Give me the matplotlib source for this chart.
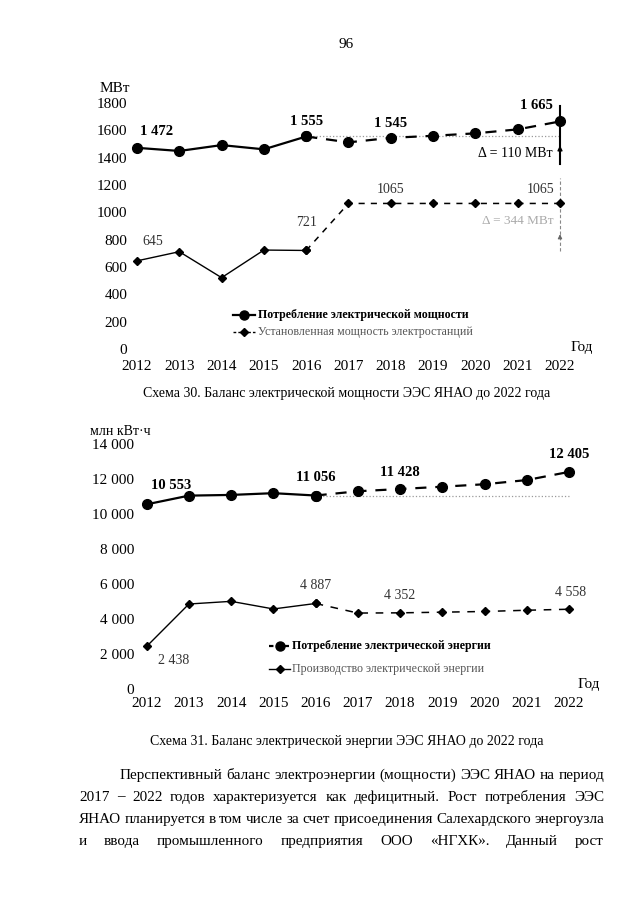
import matplotlib
matplotlib.use('Agg')
import matplotlib.pyplot as plt
from matplotlib.lines import Line2D

plt.rcParams['font.family'] = ['Liberation Serif', 'DejaVu Serif']

# ---------------- data ----------------
years = list(range(2012, 2023))
power_consumption = [1472, 1449, 1492, 1461, 1555, 1512, 1545, 1560, 1578, 1607, 1665]
installed_capacity = [645, 712, 522, 724, 721, 1065, 1065, 1065, 1065, 1065, 1065]
energy_consumption = [10553, 11050, 11090, 11190, 11056, 11300, 11428, 11560, 11700, 11940, 12405]
energy_production = [2438, 4857, 5009, 4574, 4887, 4340, 4352, 4390, 4430, 4500, 4558]

power_ticks = [0, 200, 400, 600, 800, 1000, 1200, 1400, 1600, 1800]
power_tick_labels = ['0', '200', '400', '600', '800', '1000', '1200', '1400', '1600', '1800']
energy_ticks = [0, 2000, 4000, 6000, 8000, 10000, 12000, 14000]
energy_tick_labels = ['0', '2 000', '4 000', '6 000', '8 000', '10 000', '12 000', '14 000']

page_number = '96'
caption_30 = 'Схема 30. Баланс электрической мощности ЭЭС ЯНАО до 2022 года'
caption_31 = 'Схема 31. Баланс электрической энергии ЭЭС ЯНАО до 2022 года'
legend_power = ['Потребление электрической мощности', 'Установленная мощность электростанций']
legend_energy = ['Потребление электрической энергии', 'Производство электрической энергии']
body_lines = [
    'Перспективный баланс электроэнергии (мощности) ЭЭС ЯНАО на период',
    '2017 – 2022 годов характеризуется как дефицитный. Рост потребления ЭЭС',
    'ЯНАО планируется в том числе за счет присоединения Салехардского энергоузла',
    'и ввода промышленного предприятия ООО «НГХК». Данный рост',
]

def fmt(v):
    return f'{v:,}'.replace(',', ' ')

W, H = 640, 905
fig = plt.figure(figsize=(W / 100, H / 100), dpi=100)
fig.patch.set_facecolor('white')


def fx(x):
    return x / W


def fy(y):
    return 1 - y / H


def make_ax(xd, xp, yd, yp, xlim, ylim):
    sx = (xp[1] - xp[0]) / (xd[1] - xd[0])
    left = xp[0] + (xlim[0] - xd[0]) * sx
    right = xp[0] + (xlim[1] - xd[0]) * sx
    sy = (yp[1] - yp[0]) / (yd[1] - yd[0])
    top = yp[0] + (ylim[1] - yd[0]) * sy
    bot = yp[0] + (ylim[0] - yd[0]) * sy
    ax = fig.add_axes([left / W, 1 - bot / H, (right - left) / W, (bot - top) / H])
    ax.set_xlim(*xlim)
    ax.set_ylim(*ylim)
    for s in ax.spines.values():
        s.set_visible(False)
    ax.set_facecolor('none')
    ax.tick_params(length=0)
    return ax


def legend_rows(x0, x1, xt, rows):
    for (y, ls, lw, marker, ms, text, weight, color) in rows:
        fig.add_artist(Line2D([fx(x0), fx(x1)], [fy(y), fy(y)], transform=fig.transFigure,
                              color='black', lw=lw, linestyle=ls))
        fig.add_artist(Line2D([fx((x0 + x1) / 2)], [fy(y)], transform=fig.transFigure,
                              color='black', marker=marker, markersize=ms, linestyle='none'))
        fig.text(fx(xt), fy(y), text, ha='left', va='center', fontsize=8.6,
                 fontweight=weight, color=color)


# ================= chart 30 =================
ax1 = make_ax((2012, 2022), (137, 560), (0, 1800), (349, 103), (2011.9, 2022.6), (0, 1800))
ax1.set_yticks(power_ticks)
ax1.set_yticklabels(power_tick_labels, fontsize=11)
ax1.set_xticks(years)
ax1.set_xticklabels([str(y) for y in years], fontsize=11)
ax1.tick_params(axis='y', pad=4)
ax1.tick_params(axis='x', pad=8)

ax1.plot([2016, 2022], [power_consumption[4]] * 2, linestyle=':', color='#9a9a9a', lw=0.9, zorder=1)
ax1.plot(years[:5], power_consumption[:5], '-', color='black', lw=1.6, marker='o', ms=7, clip_on=False, zorder=3)
ax1.plot(years[4:], power_consumption[4:], color='black', lw=1.6, dashes=(5, 4), marker='o', ms=7, clip_on=False, zorder=3)
ax1.plot(years[:5], installed_capacity[:5], '-', color='black', lw=1.0, marker='D', ms=4.5, clip_on=False, zorder=3)
ax1.plot(years[4:], installed_capacity[4:], color='black', lw=1.1, dashes=(4, 4), marker='D', ms=4.5, clip_on=False, zorder=3)

# value labels
for i, (dx, dy) in zip([0, 4, 6, 10], [(0.47, 117), (0.0, 108), (0.0, 108), (-0.55, 120)]):
    ax1.text(years[i] + dx, power_consumption[i] + dy, fmt(power_consumption[i]), ha='center', va='center',
             fontsize=10.5, fontweight='bold')
for i, (dx, dy) in zip([0, 4, 6, 10], [(0.37, 145), (0.0, 208), (0.0, 105), (-0.45, 105)]):
    ax1.text(years[i] + dx, installed_capacity[i] + dy, str(installed_capacity[i]), ha='center', va='center',
             fontsize=10, color='#333333')

# delta annotations
ax1.plot([2022, 2022], [1350, 1775], color='black', lw=1.5, clip_on=False, zorder=2)
ax1.annotate('', xy=(2022, 1510), xytext=(2022, 1450),
             arrowprops=dict(arrowstyle='-|>', color='black', lw=1, mutation_scale=7), annotation_clip=False)
ax1.text(2021.82, 1434, 'Δ = 110 МВт', ha='right', va='center', fontsize=10)
ax1.plot([2022, 2022], [720, 1250], color='#888888', lw=0.8, linestyle=(0, (3, 2)), clip_on=False, zorder=2)
ax1.annotate('', xy=(2022, 860), xytext=(2022, 800),
             arrowprops=dict(arrowstyle='-|>', color='#666666', lw=0.8, mutation_scale=6), annotation_clip=False)
ax1.text(2021.85, 936, 'Δ = 344 МВт', ha='right', va='center', fontsize=9.5, color='#aaaaaa')

fig.text(fx(115), fy(88), 'МВт', ha='center', va='center', fontsize=11)
fig.text(fx(582), fy(347), 'Год', ha='center', va='center', fontsize=11)

legend_rows(233, 255, 258, [
    (315, '-', 1.6, 'o', 6.5, legend_power[0], 'bold', 'black'),
    (332, (0, (2, 1.5)), 1.0, 'D', 4, legend_power[1], 'normal', '#555555'),
])

fig.text(fx(347), fy(394), caption_30, ha='center', va='center', fontsize=10)

# ================= chart 31 =================
ax2 = make_ax((2012, 2022), (146.7, 569), (0, 10000), (689, 514), (2011.9, 2022.6), (0, 14000))
ax2.set_yticks(energy_ticks)
ax2.set_yticklabels(energy_tick_labels, fontsize=11)
ax2.set_xticks(years)
ax2.set_xticklabels([str(y) for y in years], fontsize=11)
ax2.tick_params(axis='y', pad=6)
ax2.tick_params(axis='x', pad=6)

ax2.plot([2016, 2022], [energy_consumption[4]] * 2, linestyle=':', color='#9a9a9a', lw=0.9, zorder=1)
ax2.plot(years[:5], energy_consumption[:5], '-', color='black', lw=1.6, marker='o', ms=7, clip_on=False, zorder=3)
ax2.plot(years[4:], energy_consumption[4:], color='black', lw=1.6, dashes=(5, 4), marker='o', ms=7, clip_on=False, zorder=3)
ax2.plot(years[:5], energy_production[:5], '-', color='black', lw=1.0, marker='D', ms=4.5, clip_on=False, zorder=3)
ax2.plot(years[4:], energy_production[4:], color='black', lw=1.1, dashes=(5, 5), marker='D', ms=4.5, clip_on=False, zorder=3)

for i, (dx, dy) in zip([0, 4, 6, 10], [(0.58, 1100), (0.0, 1020), (0.0, 930), (0.0, 970)]):
    ax2.text(years[i] + dx, energy_consumption[i] + dy, fmt(energy_consumption[i]), ha='center', va='center',
             fontsize=10.5, fontweight='bold')
for i, (dx, dy) in zip([0, 4, 6, 10], [(0.63, -820), (0.0, 1000), (0.0, 980), (0.03, 950)]):
    ax2.text(years[i] + dx, energy_production[i] + dy, fmt(energy_production[i]), ha='center', va='center',
             fontsize=10, color='#333333')

fig.text(fx(120), fy(431), 'млн кВт·ч', ha='center', va='center', fontsize=10)
fig.text(fx(589), fy(684), 'Год', ha='center', va='center', fontsize=11)

legend_rows(269, 290, 292, [
    (646, (0, (2, 1.5)), 1.6, 'o', 6.5, legend_energy[0], 'bold', 'black'),
    (669, '-', 1.0, 'D', 4, legend_energy[1], 'normal', '#555555'),
])

fig.text(fx(347), fy(742), caption_31, ha='center', va='center', fontsize=10)

# ================= page elements =================
fig.text(fx(346), fy(45), page_number, ha='center', va='center', fontsize=11)

renderer = fig.canvas.get_renderer()
body_fs = 10.9
line_y = [775, 797, 819, 841]
left_px, right_px, indent_px = 79, 604, 120
for k, (line, y) in enumerate(zip(body_lines, line_y)):
    words = line.split(' ')
    x_start = indent_px if k == 0 else left_px
    texts = [fig.text(0, fy(y), w, ha='left', va='center', fontsize=body_fs) for w in words]
    widths = [t.get_window_extent(renderer).width for t in texts]
    gap = (right_px - x_start - sum(widths)) / (len(words) - 1)
    x = x_start
    for t, wdt in zip(texts, widths):
        t.set_x(fx(x))
        x += wdt + gap

fig.savefig('out.png', dpi=100, facecolor='white')
